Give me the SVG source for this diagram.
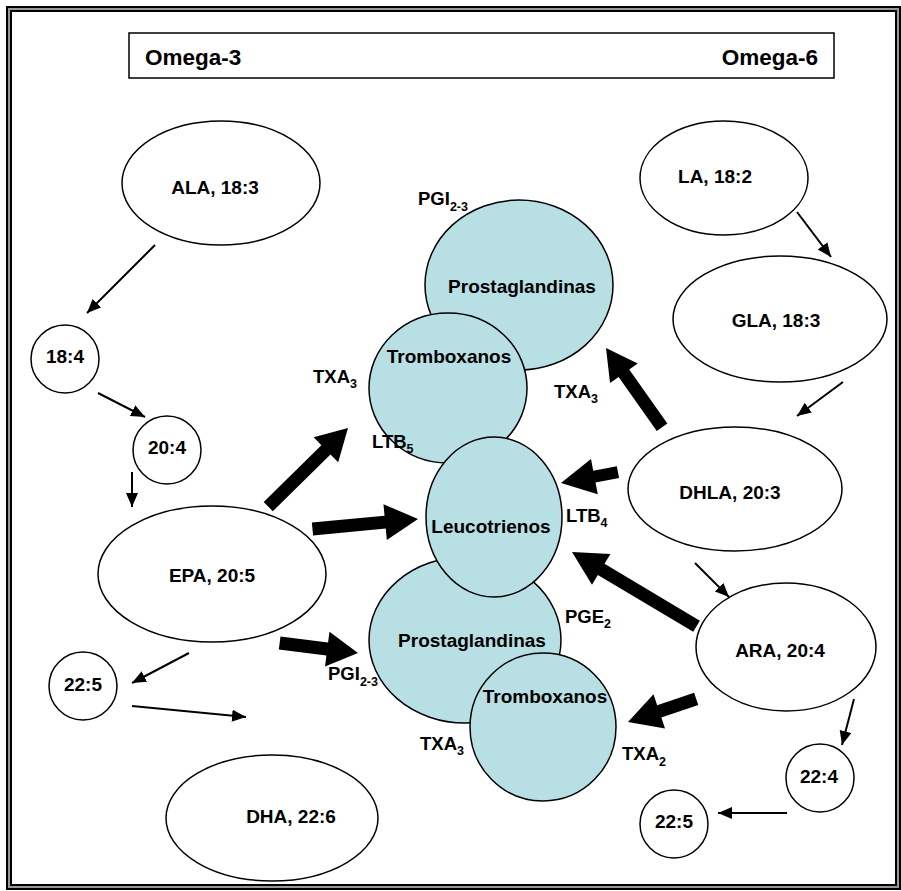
<svg xmlns="http://www.w3.org/2000/svg" width="901" height="891" viewBox="0 0 901 891">
<defs>
<style>
.n{fill:#fff;stroke:#000;stroke-width:1.5}
.b{fill:#b8dfe3;stroke:#000;stroke-width:1.5}
.t{font-family:"Liberation Sans",Arial,sans-serif;font-weight:bold;font-size:19px;fill:#000;text-anchor:middle}
.l{font-family:"Liberation Sans",Arial,sans-serif;font-weight:bold;font-size:18.5px;fill:#000}
.s{font-size:12.5px}
.h{font-family:"Liberation Sans",Arial,sans-serif;font-weight:bold;font-size:22.5px;fill:#000}
.thin{stroke:#000;stroke-width:2;fill:none;marker-end:url(#ah)}
.thick{fill:#000}
</style>
<marker id="ah" markerUnits="userSpaceOnUse" markerWidth="15" markerHeight="13" refX="14" refY="6" orient="auto">
<path d="M0,0 L14,6 L0,12 z" fill="#000"/>
</marker>
</defs>
<rect x="0" y="0" width="901" height="891" fill="#fff"/>
<g id="border">
<rect x="9" y="9" width="889" height="878" fill="none" stroke="#999" stroke-width="6"/>
<rect x="7" y="7" width="893" height="882" fill="none" stroke="#000" stroke-width="2"/>
<rect x="11" y="11" width="885" height="874" fill="none" stroke="#000" stroke-width="2"/>
</g>
<g id="header">
<rect x="129" y="33" width="705" height="45" fill="#fff" stroke="#000" stroke-width="1.5"/>
<text class="h" x="145" y="65">Omega-3</text>
<text class="h" x="818" y="65" text-anchor="end">Omega-6</text>
</g>
<g id="ALA"><ellipse class="n" cx="221" cy="183" rx="99" ry="62"/><text class="t" x="215" y="194">ALA, 18:3</text></g>
<g id="n18-4"><circle class="n" cx="65" cy="359" r="34"/><text class="t" x="65" y="363">18:4</text></g>
<g id="n20-4"><circle class="n" cx="167" cy="450" r="34"/><text class="t" x="167" y="454">20:4</text></g>
<g id="EPA"><ellipse class="n" cx="212" cy="574" rx="114" ry="68"/><text class="t" x="212" y="582">EPA, 20:5</text></g>
<g id="n22-5a"><circle class="n" cx="83" cy="686" r="34"/><text class="t" x="83" y="691">22:5</text></g>
<g id="DHA"><ellipse class="n" cx="272" cy="818" rx="106" ry="63"/><text class="t" x="291" y="823">DHA, 22:6</text></g>
<g id="LA"><ellipse class="n" cx="724" cy="178" rx="84" ry="57"/><text class="t" x="715" y="183">LA, 18:2</text></g>
<g id="GLA"><ellipse class="n" cx="780" cy="319" rx="107" ry="63"/><text class="t" x="776" y="327">GLA, 18:3</text></g>
<g id="DHLA"><ellipse class="n" cx="735" cy="489" rx="107" ry="62"/><text class="t" x="730" y="499">DHLA, 20:3</text></g>
<g id="ARA"><ellipse class="n" cx="786" cy="647" rx="90" ry="64"/><text class="t" x="780" y="657">ARA, 20:4</text></g>
<g id="n22-4"><circle class="n" cx="820" cy="778" r="34"/><text class="t" x="819" y="783">22:4</text></g>
<g id="n22-5b"><circle class="n" cx="674" cy="824" r="34"/><text class="t" x="674" y="828">22:5</text></g>
<g id="prosta-top"><ellipse class="b" cx="519" cy="285" rx="94" ry="85"/><text class="t" x="522" y="293">Prostaglandinas</text></g>
<g id="tromb-top"><ellipse class="b" cx="448" cy="388" rx="79" ry="75"/><text class="t" x="449" y="363">Tromboxanos</text></g>
<g id="prosta-low"><ellipse class="b" cx="465" cy="640" rx="96" ry="83"/><text class="t" x="472" y="647">Prostaglandinas</text></g>
<g id="leuco"><ellipse class="b" cx="494" cy="517" rx="68" ry="80"/><text class="t" x="491" y="533">Leucotrienos</text></g>
<g id="tromb-low"><ellipse class="b" cx="543" cy="727" rx="73" ry="74"/><text class="t" x="545" y="703">Tromboxanos</text></g>
<g id="labels">
<text class="l" x="418" y="205">PGI<tspan class="s" dy="6">2-3</tspan></text>
<text class="l" x="313" y="383">TXA<tspan class="s" dy="5">3</tspan></text>
<text class="l" x="554" y="398">TXA<tspan class="s" dy="5">3</tspan></text>
<text class="l" x="372" y="448">LTB<tspan class="s" dy="5">5</tspan></text>
<text class="l" x="566" y="522">LTB<tspan class="s" dy="5">4</tspan></text>
<text class="l" x="565" y="623">PGE<tspan class="s" dy="5">2</tspan></text>
<text class="l" x="328" y="680">PGI<tspan class="s" dy="6">2-3</tspan></text>
<text class="l" x="420" y="750">TXA<tspan class="s" dy="5">3</tspan></text>
<text class="l" x="622" y="760">TXA<tspan class="s" dy="6">2</tspan></text>
</g>
<g id="connectors">
<line class="thin" x1="155" y1="245" x2="87" y2="313"/>
<line class="thin" x1="98" y1="393" x2="145" y2="417"/>
<line class="thin" x1="132" y1="472" x2="132" y2="507"/>
<line class="thin" x1="189" y1="653" x2="132" y2="683"/>
<line class="thin" x1="132" y1="706" x2="246" y2="717"/>
<line class="thin" x1="797" y1="212" x2="831" y2="257"/>
<line class="thin" x1="843" y1="382" x2="797" y2="416"/>
<line class="thin" x1="695" y1="563" x2="729" y2="597"/>
<line class="thin" x1="854" y1="699" x2="842" y2="745"/>
<line class="thin" x1="787" y1="813" x2="718" y2="813"/>
<polygon class="thick" transform="translate(348,428) rotate(-44.6)" points="0,0 -31,-17.5 -31,-6.5 -112,-6.5 -112,6.5 -31,6.5 -31,17.5"/>
<polygon class="thick" transform="translate(418,519) rotate(-5.4)" points="0,0 -33,-18 -33,-6.5 -106,-6.5 -106,6.5 -33,6.5 -33,18"/>
<polygon class="thick" transform="translate(358,653) rotate(7.3)" points="0,0 -31,-17.5 -31,-6.5 -79,-6.5 -79,6.5 -31,6.5 -31,17.5"/>
<polygon class="thick" transform="translate(606,348) rotate(-125.3)" points="0,0 -31,-17 -31,-6.5 -97,-6.5 -97,6.5 -31,6.5 -31,17"/>
<polygon class="thick" transform="translate(561,483) rotate(169.1)" points="0,0 -34,-18 -34,-6 -58,-6 -58,6 -34,6 -34,18"/>
<polygon class="thick" transform="translate(572,552) rotate(-149.2)" points="0,0 -34,-18 -34,-6.5 -145,-6.5 -145,6.5 -34,6.5 -34,18"/>
<polygon class="thick" transform="translate(628,722) rotate(161.3)" points="0,0 -33,-18 -33,-6.5 -72,-6.5 -72,6.5 -33,6.5 -33,18"/>
</g>
</svg>
